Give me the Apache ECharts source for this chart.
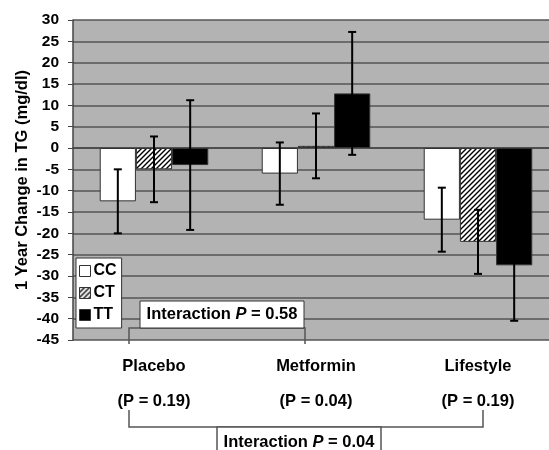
<!DOCTYPE html>
<html>
<head>
<meta charset="utf-8">
<script src="https://cdn.jsdelivr.net/npm/echarts@6/dist/echarts.min.js"></script>
<style>
  html, body { margin: 0; padding: 0; background: #fff; }
  #chart { width: 549px; height: 450px; }
</style>
</head>
<body>
<div id="chart"></div>
<script>
// data
var categories = ['Placebo', 'Metformin', 'Lifestyle'];
var pLabels = ['(P = 0.19)', '(P = 0.04)', '(P = 0.19)'];
var genotypes = ['CC', 'CT', 'TT'];
var ccMean = [-12.5, -6, -16.8];
var ctMean = [-5, 0.5, -22];
var ttMean = [-4, 12.8, -27.5];
var ccErr = [7.5, 7.3, 7.5];
var ctErr = [7.7, 7.6, 7.5];
var ttErr = [15.2, 14.4, 13];
var yTicks = { min: -45, max: 30, step: 5 };

var FONT = 'Liberation Sans, Arial, sans-serif';

// hatch fill for CT
function hatch() {
  var c = document.createElement('canvas');
  c.width = 5; c.height = 5;
  var g = c.getContext('2d');
  g.fillStyle = '#fff';
  g.fillRect(0, 0, 5, 5);
  g.strokeStyle = '#000';
  g.lineWidth = 1.4;
  g.beginPath();
  g.moveTo(-1, 1); g.lineTo(1, -1);
  g.moveTo(0, 5); g.lineTo(5, 0);
  g.moveTo(4, 6); g.lineTo(6, 4);
  g.stroke();
  return c;
}

var fills = ['#fff', { image: hatch(), repeat: 'repeat' }, '#000'];
var means = [ccMean, ctMean, ttMean];
var errs = [ccErr, ctErr, ttErr];
var GAP = 0.33;

var series = [];
genotypes.forEach(function (name, k) {
  series.push({
    name: name,
    type: 'bar',
    data: means[k],
    barGap: '0%',
    barCategoryGap: '33%',
    itemStyle: { color: fills[k], borderColor: '#333', borderWidth: 1 },
    z: 2
  });
});
genotypes.forEach(function (name, k) {
  series.push({
    name: name + ' err',
    type: 'custom',
    z: 5,
    data: means[k].map(function (m, i) { return [i, m - errs[k][i], m + errs[k][i]]; }),
    encode: { x: 0, y: [1, 2] },
    renderItem: function (params, api) {
      var i = api.value(0);
      var catW = api.size([1, 0])[0];
      var barW = catW * (1 - GAP) / 3;
      var x = api.coord([i, 0])[0] + (k - 1) * barW;
      var lo = api.coord([i, api.value(1)])[1];
      var hi = api.coord([i, api.value(2)])[1];
      var st = { stroke: '#000', lineWidth: 2 };
      return {
        type: 'group',
        children: [
          { type: 'line', shape: { x1: x, y1: lo, x2: x, y2: hi }, style: st },
          { type: 'line', shape: { x1: x - 4, y1: lo, x2: x + 4, y2: lo }, style: st },
          { type: 'line', shape: { x1: x - 4, y1: hi, x2: x + 4, y2: hi }, style: st }
        ]
      };
    }
  });
});

function interText(val) {
  return '{a|Interaction }{b|P}{a| = ' + val + '}';
}
var richI = {
  a: { fontFamily: FONT, fontWeight: 'bold', fontSize: 16.5, color: '#000' },
  b: { fontFamily: FONT, fontWeight: 'bold', fontStyle: 'italic', fontSize: 16.5, color: '#000' }
};

var chart = echarts.init(document.getElementById('chart'));
chart.setOption({
  backgroundColor: '#fff',
  animation: false,
  grid: {
    left: 73, top: 20, width: 486, height: 320,
    outerBoundsMode: 'none',
    containLabel: false,
    show: true, backgroundColor: '#b3b3b3', borderWidth: 0
  },
  legend: {
    data: genotypes,
    orient: 'vertical',
    left: 76, top: 258,
    backgroundColor: '#fff',
    borderColor: '#333', borderWidth: 1,
    padding: [5, 5, 5, 3],
    itemGap: 6,
    itemWidth: 11, itemHeight: 11,
    icon: 'rect',
    itemStyle: { borderColor: '#333', borderWidth: 1 },
    textStyle: { fontFamily: FONT, fontWeight: 'bold', fontSize: 16, color: '#000', padding: [0, 0, 0, -2] }
  },
  xAxis: {
    type: 'category',
    data: categories,
    axisLine: { lineStyle: { color: '#444', width: 1.5 } },
    axisTick: { show: false },
    axisLabel: {
      interval: 0,
      margin: 9,
      formatter: function (v, i) { return '{n|' + v + '}\n{p|' + pLabels[i] + '}'; },
      rich: {
        n: { fontFamily: FONT, fontWeight: 'bold', fontSize: 16.5, color: '#000', lineHeight: 35 },
        p: { fontFamily: FONT, fontWeight: 'bold', fontSize: 16.5, color: '#000', lineHeight: 35 }
      }
    }
  },
  yAxis: {
    type: 'value',
    min: yTicks.min, max: yTicks.max, interval: yTicks.step,
    name: '1 Year Change in TG (mg/dl)',
    nameLocation: 'middle',
    nameRotate: 90,
    nameGap: 42,
    nameMoveOverlap: false,
    nameTextStyle: { fontFamily: FONT, fontWeight: 'bold', fontSize: 16.5, color: '#000' },
    axisLine: { show: true, lineStyle: { color: '#444', width: 1.5 } },
    axisTick: { show: true, length: 5, lineStyle: { color: '#444' } },
    axisLabel: { margin: 14, fontFamily: FONT, fontWeight: 'bold', fontSize: 15.5, color: '#000' },
    splitLine: { lineStyle: { color: '#555', width: 1.5 } }
  },
  series: series,
  graphic: [
    { type: 'polyline', z: 10, shape: { points: [[129, 344], [129, 328], [305, 328], [305, 344]] },
      style: { stroke: '#555', lineWidth: 1.5, fill: null } },
    { type: 'rect', z: 11, shape: { x: 140, y: 301, width: 164, height: 27 },
      style: { fill: '#fff', stroke: '#333', lineWidth: 1 } },
    { type: 'text', z: 12, x: 222, y: 314,
      style: { text: interText('0.58'), rich: richI, align: 'center', verticalAlign: 'middle' } },
    { type: 'polyline', z: 10, shape: { points: [[129, 410], [129, 427], [483, 427], [483, 410]] },
      style: { stroke: '#555', lineWidth: 1.5, fill: null } },
    { type: 'rect', z: 11, shape: { x: 217, y: 427, width: 164, height: 30 },
      style: { fill: '#fff', stroke: '#555', lineWidth: 1.5 } },
    { type: 'text', z: 12, x: 299, y: 442,
      style: { text: interText('0.04'), rich: richI, align: 'center', verticalAlign: 'middle' } }
  ]
});
</script>
</body>
</html>
